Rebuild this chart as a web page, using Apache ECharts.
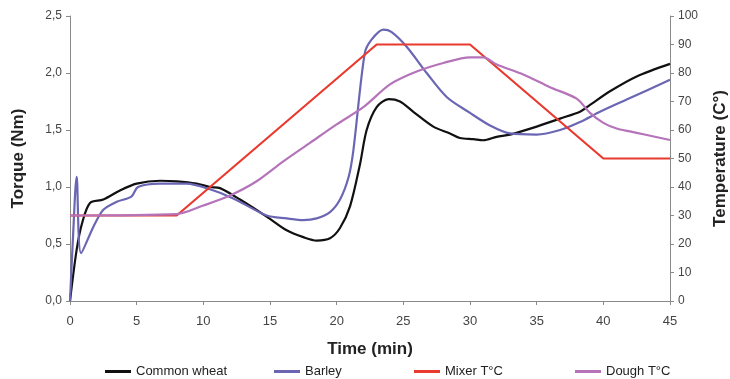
<!DOCTYPE html>
<html>
<head>
<meta charset="utf-8">
<script src="https://cdn.jsdelivr.net/npm/echarts@6/dist/echarts.min.js"></script>
<style>html,body{margin:0;padding:0;background:#fff}#c{width:730px;height:379px}</style>
</head>
<body>
<div id="c"></div>
<script>
// Common wheat torque (Nm)
var wheatTime   = [0, 0.5, 0.9, 1.5, 2.5, 3.75, 5, 6.75, 8, 9.5, 10.5, 11.25, 12.75, 14.75, 16.25, 17.5, 18.5, 19.5, 20.25, 21, 21.75, 22.25, 23, 23.9, 24.75, 25.75, 27.25, 28.5, 29.25, 30.25, 31, 32, 33, 35, 36.75, 38.25, 39, 40.5, 42.5, 45];
var wheatTorque = [0, 0.45, 0.68, 0.86, 0.89, 0.97, 1.03, 1.055, 1.05, 1.03, 1.0, 0.99, 0.89, 0.74, 0.62, 0.56, 0.53, 0.55, 0.64, 0.83, 1.2, 1.5, 1.70, 1.77, 1.75, 1.66, 1.53, 1.47, 1.43, 1.42, 1.41, 1.44, 1.46, 1.53, 1.60, 1.66, 1.72, 1.84, 1.97, 2.08];
// Barley torque (Nm)
var barleyTime   = [0, 0.2, 0.5, 0.83, 1.75, 2.5, 3.5, 4.6, 5.1, 6.75, 8.75, 10.5, 12.25, 14.75, 16.25, 17.5, 18.5, 19.5, 20.25, 20.9, 21.25, 22.1, 22.6, 23.5, 24.1, 25.25, 26.75, 28.25, 30, 31.5, 33, 35, 36.75, 38.25, 39.75, 42, 45];
var barleyTorque = [0, 0.5, 1.09, 0.42, 0.65, 0.80, 0.87, 0.915, 1.0, 1.03, 1.03, 0.98, 0.90, 0.75, 0.725, 0.71, 0.725, 0.78, 0.89, 1.09, 1.32, 2.17, 2.29, 2.38, 2.36, 2.23, 2.0, 1.79, 1.65, 1.54, 1.47, 1.46, 1.50, 1.57, 1.66, 1.78, 1.94];
// Mixer temperature (°C)
var mixerTime = [0, 8, 23, 30, 40, 45];
var mixerTemp = [30, 30, 90, 90, 50, 50];
// Dough temperature (°C)
var doughTime = [0, 8, 10, 12, 14, 16, 18, 20, 22, 24, 26, 28, 30, 31, 32, 34, 36, 38, 39, 40, 41, 42, 43, 45];
var doughTemp = [30, 30.5, 33.5, 37, 42, 49, 55.5, 62, 68, 76, 80.5, 83.5, 85.5, 85.5, 83, 79.5, 75, 71, 66, 62.5, 60.5, 59.5, 58.5, 56.5];

var seriesNames = ['Common wheat', 'Barley', 'Mixer T°C', 'Dough T°C'];
var xTicks = [0, 45, 5];

function pairs(xs, ys) { return xs.map(function (x, i) { return [x, ys[i]]; }); }

var FONT = '"Liberation Sans", Arial, sans-serif';
var axisCol = '#8a8a8a';
var labelCol = '#444';

var chart = echarts.init(document.getElementById('c'));
function legendFor(name, left) {
  return {
    data: [name], left: left, top: 360, itemWidth: 26, itemHeight: 3, icon: 'rect',
    textStyle: { fontFamily: FONT, fontSize: 13, color: '#222' }, itemGap: 6
  };
}
chart.setOption({
  animation: false,
  color: ['#111111', '#6b66b3', '#e83a2e', '#b574b9'],
  grid: { left: 70, right: 60, top: 16, bottom: 78, containLabel: false, outerBoundsMode: 'none' },
  legend: [legendFor(seriesNames[0], 100), legendFor(seriesNames[1], 269), legendFor(seriesNames[2], 409), legendFor(seriesNames[3], 570)],
  xAxis: {
    type: 'value', min: xTicks[0], max: xTicks[1], interval: xTicks[2],
    name: 'Time (min)', nameLocation: 'middle', nameGap: 40,
    nameTextStyle: { fontFamily: FONT, fontSize: 17, fontWeight: 'bold', color: '#222' },
    axisLine: { lineStyle: { color: axisCol, width: 1 } },
    axisTick: { lineStyle: { color: axisCol }, length: 4 },
    axisLabel: { fontFamily: FONT, fontSize: 13, color: labelCol, margin: 14 },
    splitLine: { show: false }
  },
  yAxis: [{
    type: 'value', min: 0, max: 2.5, interval: 0.5,
    name: 'Torque (Nm)', nameLocation: 'middle', nameGap: 43,
    nameTextStyle: { fontFamily: FONT, fontSize: 17, fontWeight: 'bold', color: '#222' },
    axisLine: { show: true, lineStyle: { color: axisCol, width: 1 } },
    axisTick: { show: true, lineStyle: { color: axisCol }, length: 4 },
    axisLabel: { fontFamily: FONT, fontSize: 12, color: labelCol, margin: 8,
      formatter: function (v) { return v.toFixed(1).replace('.', ','); } },
    splitLine: { show: false }
  }, {
    type: 'value', min: 0, max: 100, interval: 10, position: 'right',
    name: 'Temperature (C°)', nameLocation: 'middle', nameGap: 42,
    nameTextStyle: { fontFamily: FONT, fontSize: 17, fontWeight: 'bold', color: '#222' },
    axisLine: { show: true, lineStyle: { color: axisCol, width: 1 } },
    axisTick: { show: true, lineStyle: { color: axisCol }, length: 4 },
    axisLabel: { fontFamily: FONT, fontSize: 12, color: labelCol, margin: 8 },
    splitLine: { show: false }
  }],
  series: [
    { name: seriesNames[0], type: 'line', yAxisIndex: 0, data: pairs(wheatTime, wheatTorque), showSymbol: false, smooth: 0.3, lineStyle: { width: 2.2 } },
    { name: seriesNames[1], type: 'line', yAxisIndex: 0, data: pairs(barleyTime, barleyTorque), showSymbol: false, smooth: 0.3, lineStyle: { width: 2.2 } },
    { name: seriesNames[2], type: 'line', yAxisIndex: 1, data: pairs(mixerTime, mixerTemp), showSymbol: false, lineStyle: { width: 2.2 } },
    { name: seriesNames[3], type: 'line', yAxisIndex: 1, data: pairs(doughTime, doughTemp), showSymbol: false, smooth: 0.3, lineStyle: { width: 2.2 } }
  ]
});
</script>
</body>
</html>
